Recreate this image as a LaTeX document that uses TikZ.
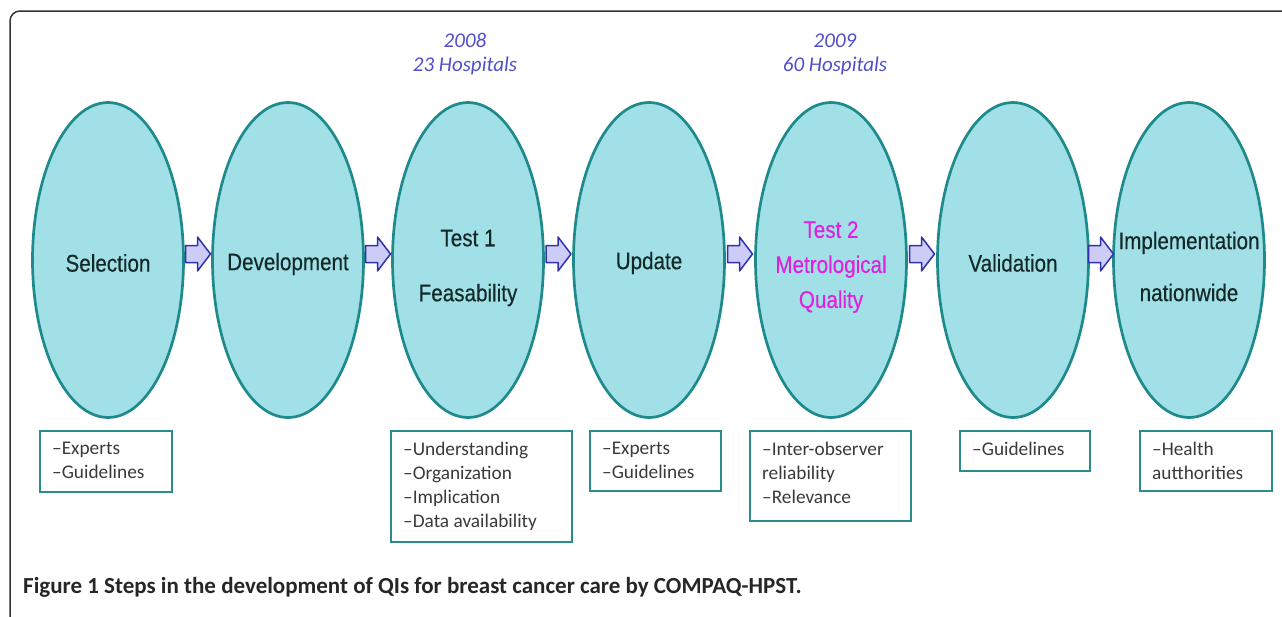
\documentclass[tikz,border=0pt]{standalone}
\usepackage{fontspec}
\setmainfont{Carlito}
\newfontfamily\ellfont[FakeStretch=0.86,FakeBold=0.3]{Liberation Sans}
\usetikzlibrary{shapes.geometric,calc}
\definecolor{ellfill}{HTML}{A0E0E6}
\definecolor{elldraw}{HTML}{1F8A8C}
\definecolor{boxdraw}{HTML}{2B8C8C}
\definecolor{boxtext}{HTML}{3A3A3A}
\definecolor{yearblue}{HTML}{4F4FCC}
\definecolor{arrfill}{HTML}{CCCCF7}
\definecolor{arrdraw}{HTML}{3030B0}
\definecolor{testpink}{HTML}{E020E0}
\definecolor{elltext}{HTML}{142828}
\definecolor{framegray}{HTML}{333333}
\newcommand\barrowat[1]{\draw[blockarrow] (#1) ++(-12.5,-8.5) -- ++(12,0) -- ++(0,-8.5) -- ++(13,17) -- ++(-13,17) -- ++(0,-8.5) -- ++(-12,0) -- cycle;}
\begin{document}
\begin{tikzpicture}[x=1pt,y=-1pt,
  ell/.style={ellipse, draw=elldraw, fill=ellfill, line width=2.7pt, minimum width=151pt, minimum height=315pt, inner sep=0pt},
  elllabel/.style={text=elltext, font=\ellfont\fontsize{24}{35}\selectfont, align=center, inner sep=0pt},
  infobox/.style={draw=boxdraw, line width=2pt, anchor=north west, inner sep=0pt, outer sep=0pt},
  boxlabel/.style={anchor=north west, align=left, inner sep=0pt, text=boxtext, font=\fontsize{19.3}{24}\selectfont},
  yearlbl/.style={text=yearblue, font=\itshape\fontsize{21}{24}\selectfont, align=center, inner sep=0pt},
  blockarrow/.style={draw=arrdraw, fill=arrfill, line width=1.5pt, line join=round}
]
\useasboundingbox (0,0) rectangle (1282,616);
\draw[framegray, line width=1.5pt, rounded corners=10pt] (10,620) -- (10,11) -- (1286,11);

% ellipses
\node[ell] (sel) at (108,260) {};
\node[ell] (dev) at (288,260) {};
\node[ell] (tst1) at (468,260) {};
\node[ell] (upd) at (649,260) {};
\node[ell] (tst2) at (831,260) {};
\node[ell] (val) at (1013,260) {};
\node[ell] (impl) at (1189,260) {};

% ellipse texts
\node[elllabel] (tsel) at ([yshift=-3pt]sel.center) {Selection};
\node[elllabel] (tdev) at ([yshift=-4pt]dev.center) {Development};
\node[elllabel] (ttst1) at ([yshift=-8pt]tst1.center) {Test 1\\[20pt]Feasability};
\node[elllabel] (tupd) at ([yshift=-3pt]upd.center) {Update};
\node[elllabel, text=testpink] (ttst2) at ([yshift=-7pt]tst2.center) {Test 2\\Metrological\\Quality};
\node[elllabel] (tval) at ([yshift=-3pt]val.center) {Validation};
\node[elllabel] (timpl) at ([yshift=-6.5pt]impl.center) {Implementation\\[17pt]nationwide};

% block arrows
\coordinate (a1) at ($(sel.east)!0.5!(dev.west)+(0,-6)$);
\coordinate (a2) at ($(dev.east)!0.5!(tst1.west)+(0,-6)$);
\coordinate (a3) at ($(tst1.east)!0.5!(upd.west)+(0,-6)$);
\coordinate (a4) at ($(upd.east)!0.5!(tst2.west)+(0,-6)$);
\coordinate (a5) at ($(tst2.east)!0.5!(val.west)+(0,-6)$);
\coordinate (a6) at ($(val.east)!0.5!(impl.west)+(0,-6)$);
\barrowat{a1}
\barrowat{a2}
\barrowat{a3}
\barrowat{a4}
\barrowat{a5}
\barrowat{a6}

% year labels
\node[yearlbl] (yr1) at (465,54) {2008\\23 Hospitals};
\node[yearlbl] (yr2) at (835,54) {2009\\60 Hospitals};

% info boxes
\node[infobox, minimum width=132pt, minimum height=61pt] (bsel) at (40,431) {};
\node[infobox, minimum width=181pt, minimum height=111pt] (btst1) at (391,431) {};
\node[infobox, minimum width=131pt, minimum height=60pt] (bupd) at (590,431) {};
\node[infobox, minimum width=161pt, minimum height=90pt] (btst2) at (750,431) {};
\node[infobox, minimum width=130pt, minimum height=40pt] (bval) at (960,431) {};
\node[infobox, minimum width=132pt, minimum height=60pt] (bimpl) at (1140,431) {};

\node[boxlabel] (tbsel) at ([shift={(12pt,-11pt)}]bsel.north west) {–Experts\\–Guidelines};
\node[boxlabel] (tbtst1) at ([shift={(12pt,-11pt)}]btst1.north west) {–Understanding\\–Organization\\–Implication\\–Data availability};
\node[boxlabel] (tbupd) at ([shift={(12pt,-11pt)}]bupd.north west) {–Experts\\–Guidelines};
\node[boxlabel] (tbtst2) at ([shift={(12pt,-11pt)}]btst2.north west) {–Inter-observer\\reliability\\–Relevance};
\node[boxlabel] (tbval) at ([shift={(12pt,-11pt)}]bval.north west) {–Guidelines};
\node[boxlabel] (tbimpl) at ([shift={(12pt,-11pt)}]bimpl.north west) {–Health\\autthorities};

% caption
\node[anchor=west, inner sep=0pt, font=\bfseries\fontsize{23}{26}\selectfont, text=black!85] (cap) at (23,587) {Figure 1 Steps in the development of QIs for breast cancer care by COMPAQ-HPST.};
\end{tikzpicture}
\end{document}
